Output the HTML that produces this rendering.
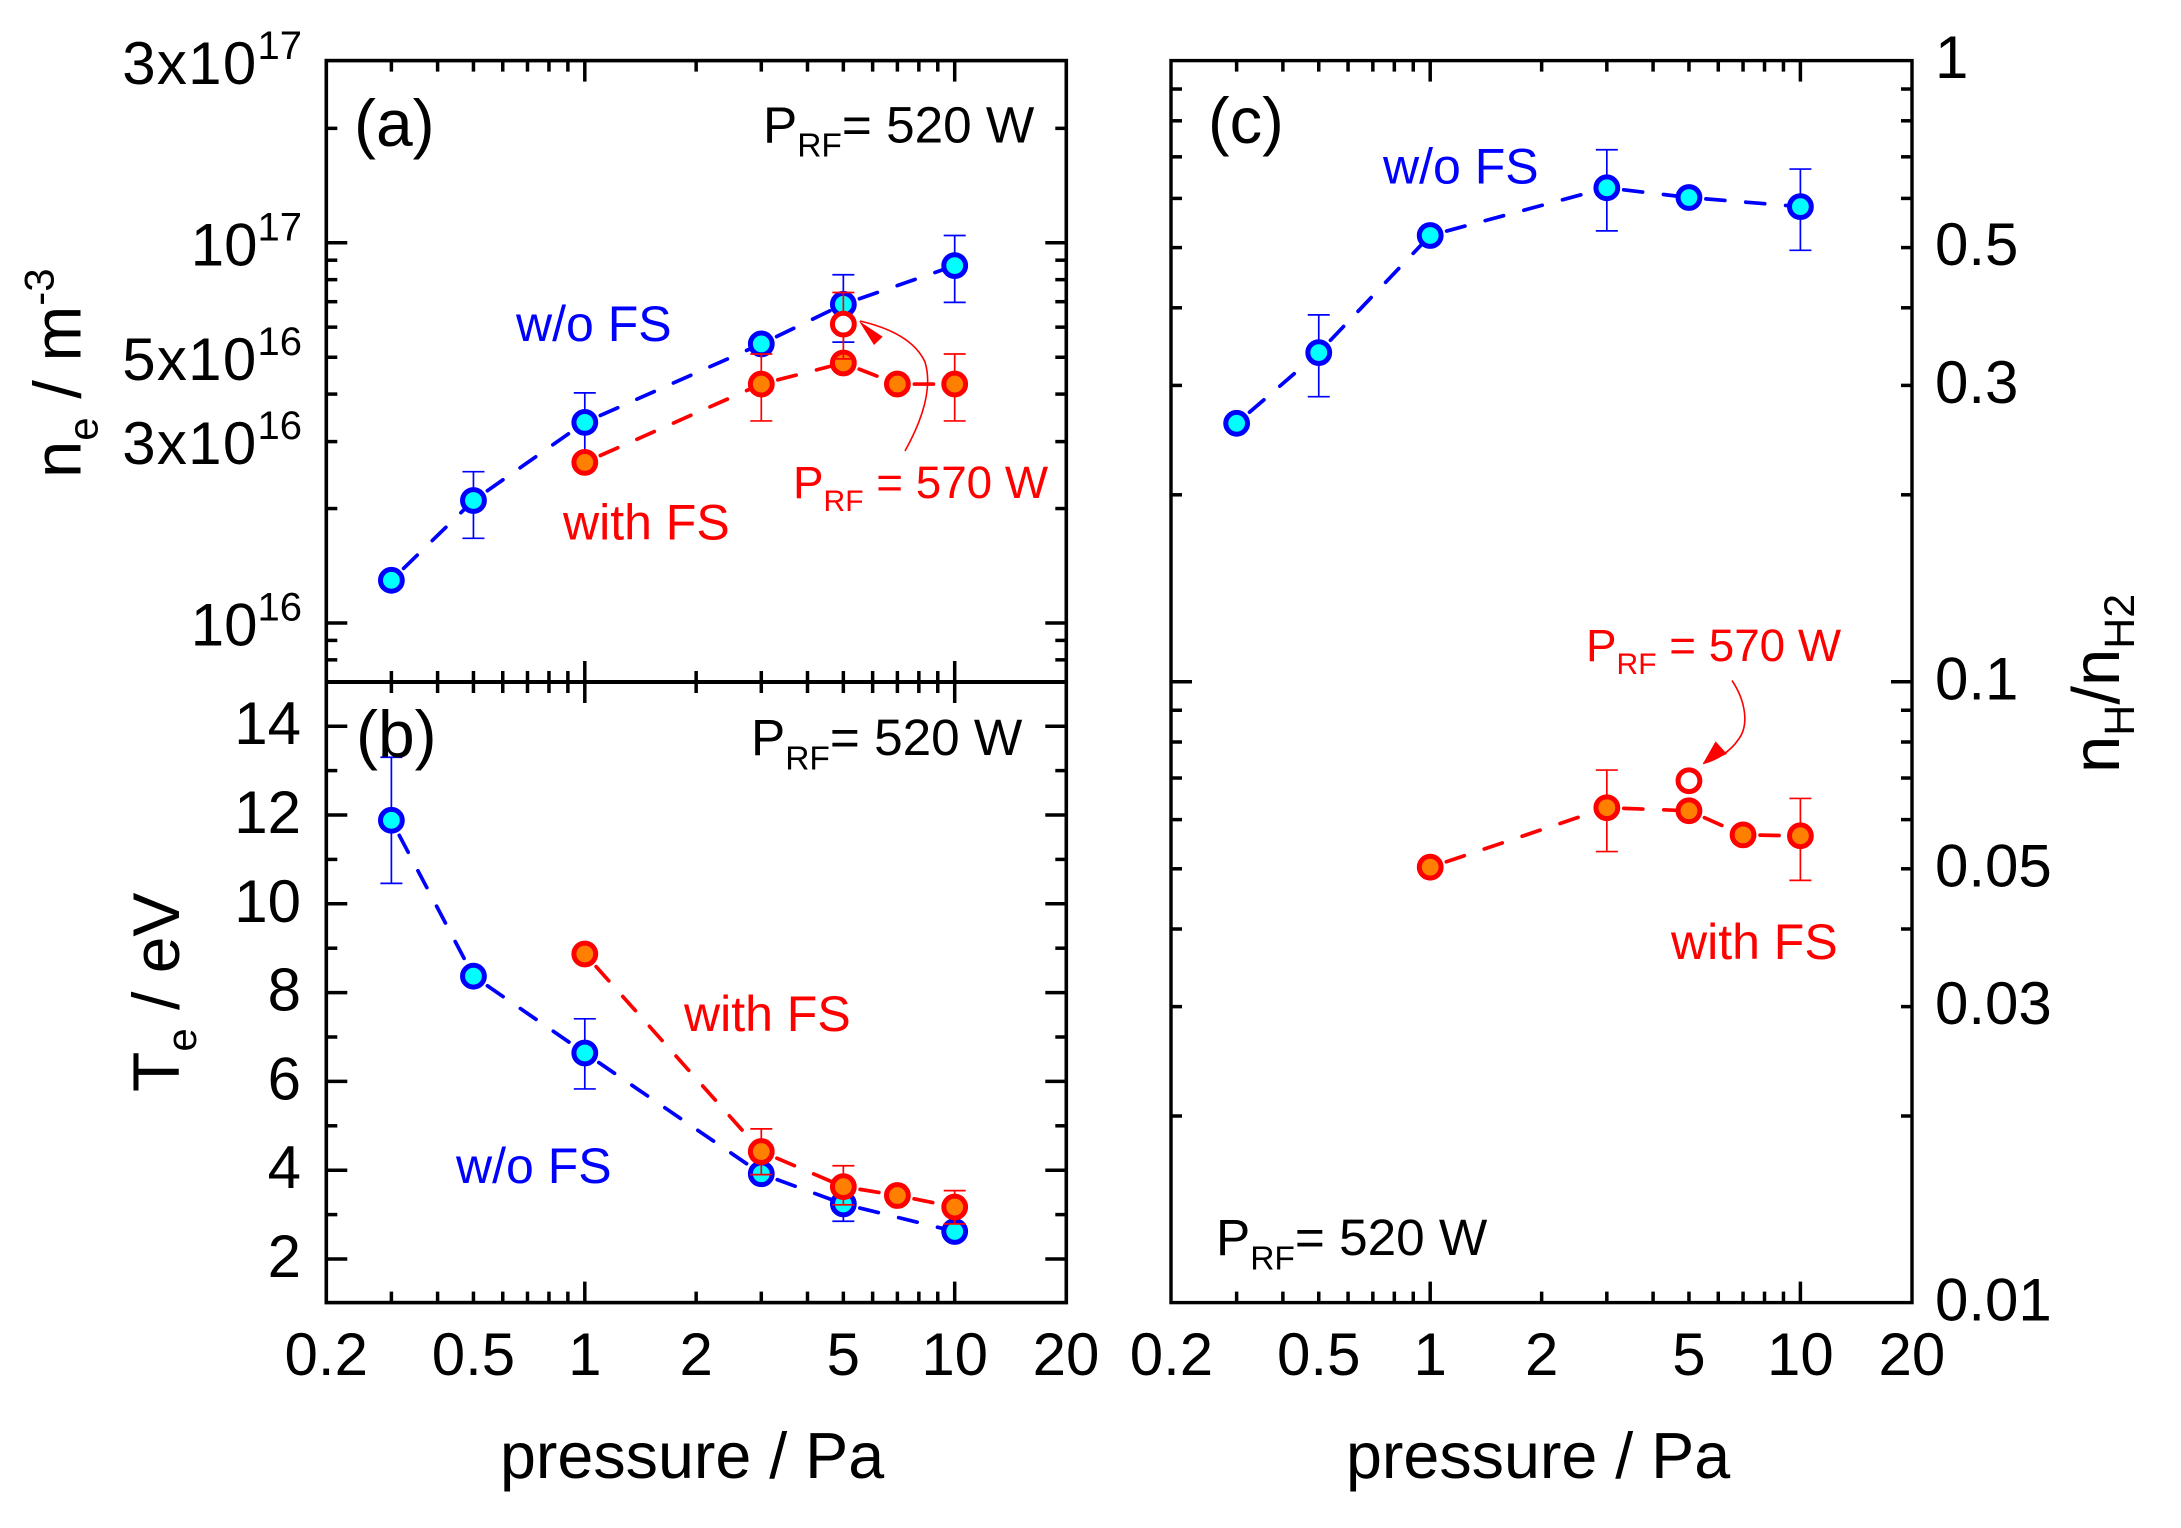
<!DOCTYPE html>
<html lang="en">
<head>
<meta charset="utf-8">
<title>Plasma parameters versus pressure</title>
<style>
  html, body { margin: 0; padding: 0; background: #ffffff; }
  svg { display: block; font-family: "Liberation Sans", Arial, sans-serif; }
</style>
</head>
<body>
<svg id="chart" xmlns="http://www.w3.org/2000/svg" width="2181" height="1528" viewBox="0 0 2181 1528">
  <rect x="0" y="0" width="2181" height="1528" fill="#ffffff"/>
  <g id="layer-ticks"></g>
  <g id="layer-series"></g>
  <rect x="326.3" y="60.6" width="740" height="1242" fill="none" stroke="#000" stroke-width="3.6"/>
  <line x1="326.3" x2="1066.3" y1="682" y2="682" stroke="#000" stroke-width="4"/>
  <rect x="1171" y="60.6" width="741" height="1242" fill="none" stroke="#000" stroke-width="3.4"/>
  <g id="layer-labels" font-size="60" fill="#000"></g>

  <text x="354" y="146" font-size="66">(a)</text>
  <text x="356" y="757" font-size="66">(b)</text>
  <text x="1208" y="143" font-size="65">(c)</text>

  <text x="763" y="142.3" font-size="51.3">P<tspan font-size="33.5" dy="14.4">RF</tspan><tspan dy="-14.4">= 520 W</tspan></text>
  <text x="751" y="755" font-size="51.3">P<tspan font-size="33.5" dy="14.4">RF</tspan><tspan dy="-14.4">= 520 W</tspan></text>
  <text x="1216" y="1255" font-size="51.3">P<tspan font-size="33.5" dy="14.4">RF</tspan><tspan dy="-14.4">= 520 W</tspan></text>

  <text x="516" y="341" font-size="50" fill="#0000ff">w/o FS</text>
  <text x="563" y="539.5" font-size="50" fill="#ff0000">with FS</text>
  <text x="793" y="498" font-size="45.8" fill="#ff0000">P<tspan font-size="30" dy="13">RF</tspan><tspan dy="-13"> = 570 W</tspan></text>
  <text x="684" y="1031" font-size="50" fill="#ff0000">with FS</text>
  <text x="456" y="1183" font-size="50" fill="#0000ff">w/o FS</text>
  <text x="1383" y="183.7" font-size="50" fill="#0000ff">w/o FS</text>
  <text x="1586" y="661" font-size="45.8" fill="#ff0000">P<tspan font-size="30" dy="13">RF</tspan><tspan dy="-13"> = 570 W</tspan></text>
  <text x="1671" y="959" font-size="50" fill="#ff0000">with FS</text>

  <g>
    <path d="M905 451 C925 415 932 385 925 362 C915 340 890 328 860 321" fill="none" stroke="#ff0000" stroke-width="1.6"/>
    <polygon points="859,321 882.7,336.7 874,345" fill="#ff0000"/>
  </g>
  <g>
    <path d="M1732 680.5 C1745 700 1750 725 1738 740 C1730 752 1716 760 1703 763.5" fill="none" stroke="#ff0000" stroke-width="1.6"/>
    <polygon points="1703,763.5 1715.6,741.4 1727,754" fill="#ff0000"/>
  </g>

  <text x="500" y="1478" font-size="64.6">pressure / Pa</text>
  <text x="1346" y="1478" font-size="64.6">pressure / Pa</text>
  <text transform="translate(80.5 478) rotate(-90)" font-size="67">n<tspan font-size="42" dy="17">e</tspan><tspan dy="-17"> / m</tspan><tspan font-size="42" dy="-27">-3</tspan></text>
  <text transform="translate(179 1092) rotate(-90)" font-size="66">T<tspan font-size="42" dy="17">e</tspan><tspan dy="-17"> / eV</tspan></text>
  <text transform="translate(2119 773) rotate(-90)" font-size="67">n<tspan font-size="43" dy="15">H</tspan><tspan dy="-15">/n</tspan><tspan font-size="43" dy="15">H2</tspan></text>
</svg>

<script>
// Shared pressure axis
const minorPressureTicks = [0.3, 0.4, 0.5, 0.6, 0.7, 0.8, 0.9, 2, 3, 4, 5, 6, 7, 8, 9];
const majorPressureTicks = [1, 10];
const pressureTickValues = [0.2, 0.5, 1, 2, 5, 10, 20];
const pressureTickLabels = ['0.2', '0.5', '1', '2', '5', '10', '20'];

// Panel (a): electron density
const neMinorTicks = [2e17, 9e16, 8e16, 7e16, 6e16, 5e16, 4e16, 3e16, 2e16, 9e15, 8e15];
const neMajorTicks = [1e17, 1e16];
const neLabelValues = [3e17, 1e17, 5e16, 3e16, 1e16];
const neLabelBases = ['3x10', '10', '5x10', '3x10', '10'];
const neLabelExponents = ['17', '17', '16', '16', '16'];
const nePressureBlue = [0.3, 0.5, 1, 3, 5, 10];
const neBlue = [1.295e16, 2.1e16, 3.37e16, 5.42e16, 6.89e16, 8.71e16];
const neBlueLow = [null, 1.67e16, 2.7e16, null, 5.48e16, 6.97e16];
const neBlueHigh = [null, 2.5e16, 4.03e16, null, 8.24e16, 1.045e17];
const nePressureRed = [1, 3, 5, 7, 10];
const neRed = [2.645e16, 4.25e16, 4.83e16, 4.25e16, 4.25e16];
const neRedLow = [null, 3.4e16, null, null, 3.4e16];
const neRedHigh = [null, 5.1e16, null, null, 5.1e16];
const neOpenPressure = [5];
const neOpen = [6.11e16];
const neOpenLow = [4.95e16];
const neOpenHigh = [7.4e16];

// Panel (b): electron temperature
const teMinorTicks = [3, 5, 7, 9, 11, 13];
const teMajorTicks = [2, 4, 6, 8, 10, 12, 14];
const teLabels = ['2', '4', '6', '8', '10', '12', '14'];
const tePressureBlue = [0.3, 0.5, 1, 3, 5, 10];
const teBlue = [11.88, 8.37, 6.64, 3.92, 3.24, 2.62];
const teBlueLow = [10.46, null, 5.83, null, 2.85, null];
const teBlueHigh = [13.3, null, 7.41, null, 3.62, null];
const tePressureRed = [1, 3, 5, 7, 10];
const teRed = [8.87, 4.42, 3.63, 3.43, 3.17];
const teRedLow = [null, 3.9, 3.22, null, 2.79];
const teRedHigh = [null, 4.93, 4.1, null, 3.54];

// Panel (c): density ratio
const ratioMinorTicks = [0.9, 0.8, 0.7, 0.6, 0.5, 0.4, 0.3, 0.2, 0.09, 0.08, 0.07, 0.06, 0.05, 0.04, 0.03, 0.02];
const ratioMajorTicks = [0.1];
const ratioLabelValues = [1, 0.5, 0.3, 0.1, 0.05, 0.03, 0.01];
const ratioLabels = ['1', '0.5', '0.3', '0.1', '0.05', '0.03', '0.01'];
const ratioPressureBlue = [0.3, 0.5, 1, 3, 5, 10];
const ratioBlue = [0.2607, 0.3388, 0.523, 0.624, 0.602, 0.582];
const ratioBlueLow = [null, 0.2877, null, 0.532, null, 0.495];
const ratioBlueHigh = [null, 0.3896, null, 0.7186, null, 0.669];
const ratioPressureRed = [1, 3, 5, 7, 10];
const ratioRed = [0.0503, 0.0627, 0.062, 0.0567, 0.0565];
const ratioRedLow = [null, 0.0533, null, null, 0.0479];
const ratioRedHigh = [null, 0.0721, null, null, 0.0649];
const ratioOpenPressure = [5];
const ratioOpen = [0.0693];

const SVG_NS = 'http://www.w3.org/2000/svg';
const layerTicks = document.getElementById('layer-ticks');
const layerSeries = document.getElementById('layer-series');
const layerLabels = document.getElementById('layer-labels');

// Axis functions
function xLeft(p) { return 584.8 + Math.log10(p) * 369.9; }
function xRight(p) { return 1430.2 + Math.log10(p) * 370.2; }
function yDensity(v) { return 623 - (Math.log10(v) - 16) * 380.2; }
function yTemperature(v) { return 1259 - (v - 2) * 44.4; }
function yRatio(v) { return 60.6 - Math.log10(v) * 621.2; }

function makeLine(parent, x1, y1, x2, y2, color, width) {
  const el = document.createElementNS(SVG_NS, 'line');
  el.setAttribute('x1', x1);
  el.setAttribute('y1', y1);
  el.setAttribute('x2', x2);
  el.setAttribute('y2', y2);
  el.setAttribute('stroke', color);
  el.setAttribute('stroke-width', width);
  parent.appendChild(el);
  return el;
}

function drawYTicks(values, yFn, left, right, length) {
  values.forEach(function (v) {
    const y = yFn(v);
    const a = makeLine(layerTicks, left, y, left + length, y, '#000', 3.5);
    
    
    const b = makeLine(layerTicks, right, y, right - length, y, '#000', 3.5);
    
    
  });
}

function drawXTicks(values, xFn, y1, y2) {
  values.forEach(function (p) {
    const x = xFn(p);
    const t = makeLine(layerTicks, x, y1, x, y2, '#000', 3.5);
    
    
  });
}

function makeText(x, y, anchor, content) {
  const el = document.createElementNS(SVG_NS, 'text');
  el.setAttribute('x', x);
  el.setAttribute('y', y);
  el.setAttribute('text-anchor', anchor);
  el.textContent = content;
  layerLabels.appendChild(el);
  return el;
}

// Draw one series: dashed connections, error bars, then markers
function drawSeries(xs, ys, lows, highs, xFn, yFn, stroke, fill) {
  for (let i = 0; i + 1 < xs.length; i++) {
    const seg = makeLine(layerSeries, xFn(xs[i]), yFn(ys[i]), xFn(xs[i + 1]), yFn(ys[i + 1]), stroke, 3.7);
    seg.setAttribute('stroke-dasharray', '19 21');
    seg.setAttribute('stroke-dashoffset', '-17');
    seg.setAttribute('stroke-linecap', 'round');
    
    
  }
  drawErrors(xs, lows, highs, xFn, yFn, stroke);
  drawMarkers(xs, ys, xFn, yFn, stroke, fill);
}

function drawErrors(xs, lows, highs, xFn, yFn, stroke) {
  xs.forEach(function (p, i) {
    if (lows[i] === null || highs[i] === null) { return; }
    const x = xFn(p);
    const yLow = yFn(lows[i]);
    const yHigh = yFn(highs[i]);
    const stem = makeLine(layerSeries, x, yLow, x, yHigh, stroke, 1.7);
    
    
    const capLow = makeLine(layerSeries, x - 11, yLow, x + 11, yLow, stroke, 1.7);
    
    
    const capHigh = makeLine(layerSeries, x - 11, yHigh, x + 11, yHigh, stroke, 1.7);
    
    
  });
}

function drawMarkers(xs, ys, xFn, yFn, stroke, fill) {
  xs.forEach(function (p, i) {
    const c = document.createElementNS(SVG_NS, 'circle');
    c.setAttribute('cx', xFn(p));
    c.setAttribute('cy', yFn(ys[i]));
    c.setAttribute('r', 10.9);
    c.setAttribute('fill', fill);
    c.setAttribute('stroke', stroke);
    c.setAttribute('stroke-width', 5);
    
    
    layerSeries.appendChild(c);
  });
}

// Ticks
drawYTicks(neMinorTicks, yDensity, 326.3, 1066.3, 11);
drawYTicks(neMajorTicks, yDensity, 326.3, 1066.3, 21);
drawYTicks(teMinorTicks, yTemperature, 326.3, 1066.3, 11);
drawYTicks(teMajorTicks, yTemperature, 326.3, 1066.3, 21);
drawYTicks(ratioMinorTicks, yRatio, 1171, 1912, 11);
drawYTicks(ratioMajorTicks, yRatio, 1171, 1912, 21);

drawXTicks(minorPressureTicks, xLeft, 60.6, 71.6);
drawXTicks(majorPressureTicks, xLeft, 60.6, 81.6);
drawXTicks(minorPressureTicks, xLeft, 671, 693);
drawXTicks(majorPressureTicks, xLeft, 661, 703);
drawXTicks(minorPressureTicks, xLeft, 1302.6, 1291.6);
drawXTicks(majorPressureTicks, xLeft, 1302.6, 1281.6);
drawXTicks(minorPressureTicks, xRight, 60.6, 71.6);
drawXTicks(majorPressureTicks, xRight, 60.6, 81.6);
drawXTicks(minorPressureTicks, xRight, 1302.6, 1291.6);
drawXTicks(majorPressureTicks, xRight, 1302.6, 1281.6);

// Tick labels
pressureTickValues.forEach(function (p, i) {
  const a = makeText(xLeft(p), 1375, 'middle', pressureTickLabels[i]);
  
  
  const b = makeText(xRight(p), 1375, 'middle', pressureTickLabels[i]);
  
  
});

neLabelValues.forEach(function (v, i) {
  const t = makeText(302, yDensity(v) + 22.5, 'end', '');
  
  
  const base = document.createElementNS(SVG_NS, 'tspan');
  if (neLabelBases[i].indexOf('x') >= 0) {
    base.setAttribute('letter-spacing', '1.3');
  }
  base.textContent = neLabelBases[i];
  t.appendChild(base);
  const sup = document.createElementNS(SVG_NS, 'tspan');
  sup.setAttribute('font-size', '40');
  sup.setAttribute('dy', '-25');
  sup.textContent = neLabelExponents[i];
  t.appendChild(sup);
});

teMajorTicks.forEach(function (v, i) {
  const t = makeText(301, yTemperature(v) + 18, 'end', teLabels[i]);
  
  
});

ratioLabelValues.forEach(function (v, i) {
  const t = makeText(1935, yRatio(v) + 17.5, 'start', ratioLabels[i]);
  
  
});

// Series: panel (a)
drawSeries(nePressureBlue, neBlue, neBlueLow, neBlueHigh, xLeft, yDensity, '#0000ff', '#00ffff');
drawSeries(nePressureRed, neRed, neRedLow, neRedHigh, xLeft, yDensity, '#ff0000', '#ff8000');
drawErrors(neOpenPressure, neOpenLow, neOpenHigh, xLeft, yDensity, '#ff0000');
drawMarkers(neOpenPressure, neOpen, xLeft, yDensity, '#ff0000', '#ffffff');

// Series: panel (b)
drawSeries(tePressureBlue, teBlue, teBlueLow, teBlueHigh, xLeft, yTemperature, '#0000ff', '#00ffff');
drawSeries(tePressureRed, teRed, teRedLow, teRedHigh, xLeft, yTemperature, '#ff0000', '#ff8000');

// Series: panel (c)
drawSeries(ratioPressureBlue, ratioBlue, ratioBlueLow, ratioBlueHigh, xRight, yRatio, '#0000ff', '#00ffff');
drawSeries(ratioPressureRed, ratioRed, ratioRedLow, ratioRedHigh, xRight, yRatio, '#ff0000', '#ff8000');
drawMarkers(ratioOpenPressure, ratioOpen, xRight, yRatio, '#ff0000', '#ffffff');
</script>
</body>
</html>
